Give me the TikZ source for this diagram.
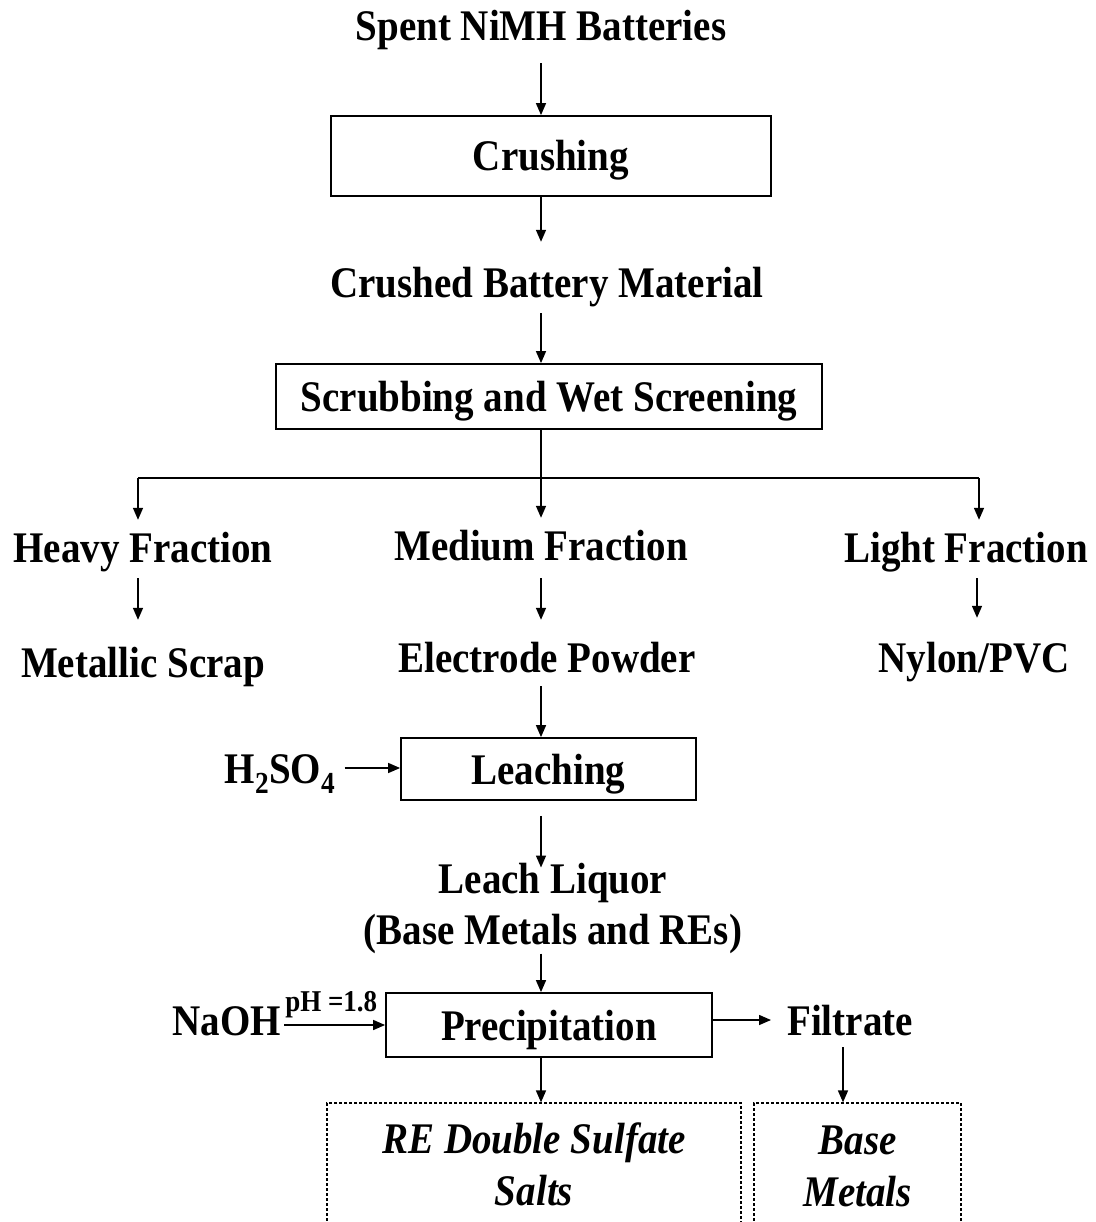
\documentclass[tikz,border=0pt]{standalone}
\usepackage{graphicx}
\usepackage{fontspec}
\setmainfont{Liberation Serif}
\usetikzlibrary{arrows.meta}
\newcommand{\T}[1]{\scalebox{1}[1.12]{#1}}
\tikzset{
  basetext/.style={font=\fontsize{39}{51}\selectfont\bfseries, inner sep=0pt},
  txt/.style={basetext, text height=42pt, text depth=12pt},
  boxn/.style={txt, draw, line width=1.8pt},
  dbox/.style={font=\fontsize{39}{52}\selectfont\bfseries\itshape, inner sep=0pt, align=center, draw, line width=1.2pt, dash pattern=on 3pt off 2pt},
  phlab/.style={font=\fontsize{27}{30}\selectfont\bfseries, inner sep=0pt, text height=31pt, text depth=9pt},
  arr/.style={line width=1.5pt, -{Triangle[length=12pt,width=10pt]}},
  plain/.style={line width=1.5pt}
}
\begin{document}
\begin{tikzpicture}[x=1pt,y=-1pt]
\useasboundingbox (0,0) rectangle (1095,1222);
\clip (0,0) rectangle (1095,1222);
\fill[white] (0,0) rectangle (1095,1222);
\coordinate (ax) at (541,0);
\coordinate (lx) at (138,0);
\coordinate (rx) at (977,0);
\coordinate (bx) at (843,0);
\coordinate (hl) at (138,478);
\coordinate (hr) at (979,478);

\node[txt] (spent) at (541,26) {\T{Spent NiMH Batteries}};
\node[boxn, minimum width=440pt, minimum height=80pt] (crush) at (551,156) {\T{Crushing}};
\node[txt] (crushed) at (547,283) {\T{Crushed Battery Material}};
\node[boxn, minimum width=546pt, minimum height=65pt] (scrub) at (549,396.5) {\T{Scrubbing and Wet Screening}};
\node[txt] (heavy) at (143,547) {\T{Heavy Fraction}};
\node[txt] (medium) at (541,545) {\T{Medium Fraction}};
\node[txt] (light) at (966,547) {\T{Light Fraction}};
\node[txt] (metal) at (143,662) {\T{Metallic Scrap}};
\node[txt] (powder) at (547,657) {\T{Electrode Powder}};
\node[txt] (nylon) at (974,657) {\T{Nylon/PVC}};
\node[boxn, minimum width=295pt, minimum height=62pt] (leach) at (548.5,769) {\T{Leaching}};
\node[txt] (acid) at (280,768) {\T{H\textsubscript{2}SO\textsubscript{4}}};
\node[basetext, align=center] (liquor) at (553,908) {\T{Leach Liquor}\\\T{(Base Metals and REs)}};
\node[boxn, minimum width=326pt, minimum height=64pt] (precip) at (549,1025) {\T{Precipitation}};
\node[txt] (naoh) at (227,1020) {\T{NaOH}};
\node[txt] (filtrate) at (850,1020) {\T{Filtrate}};
\node[dbox, minimum width=414pt, minimum height=122pt] (re) at (534,1164) {\T{RE Double Sulfate}\\\T{Salts}};
\node[dbox, minimum width=207pt, minimum height=126pt] (bm) at (857.5,1166) {\T{Base}\\\T{Metals}};

\draw[arr, shorten <=10pt] (ax |- spent.south) -- (ax |- crush.north);
\draw[arr, shorten >=14pt] (ax |- crush.south) -- (ax |- crushed.north);
\draw[arr, shorten <=3pt] (ax |- crushed.south) -- (ax |- scrub.north);
\draw[arr] (ax |- scrub.south) -- (ax |- medium.north);
\draw[plain] (hl) -- (hr);
\draw[arr] (hl) -- (hl |- heavy.north);
\draw[arr] (hr) -- (hr |- light.north);
\draw[arr, shorten <=4pt, shorten >=15pt] (lx |- heavy.south) -- (lx |- metal.north);
\draw[arr, shorten <=6pt, shorten >=10pt] (ax |- medium.south) -- (ax |- powder.north);
\draw[arr, shorten <=4pt, shorten >=12pt] (rx |- light.south) -- (rx |- nylon.north);
\draw[arr, shorten <=2pt] (ax |- powder.south) -- (ax |- leach.north);
\draw[arr, shorten <=9pt] (acid.east) -- (acid.east -| leach.west);
\draw[arr, shorten <=15pt, shorten >=-5pt] (ax |- leach.south) -- (ax |- liquor.north);
\draw[arr] (ax |- liquor.south) -- (ax |- precip.north);
\draw[arr, shorten <=3pt] (naoh.east |- precip.west) -- (precip.west)
  node[phlab, midway, yshift=25pt, xshift=-2pt] (ph) {\T{pH =1.8}};
\draw[arr, shorten >=16pt] (precip.east |- filtrate) -- (filtrate.west);
\draw[arr] (ax |- precip.south) -- (ax |- re.north);
\draw[arr] (bx |- filtrate.south) -- (bx |- bm.north);
\end{tikzpicture}
\end{document}
